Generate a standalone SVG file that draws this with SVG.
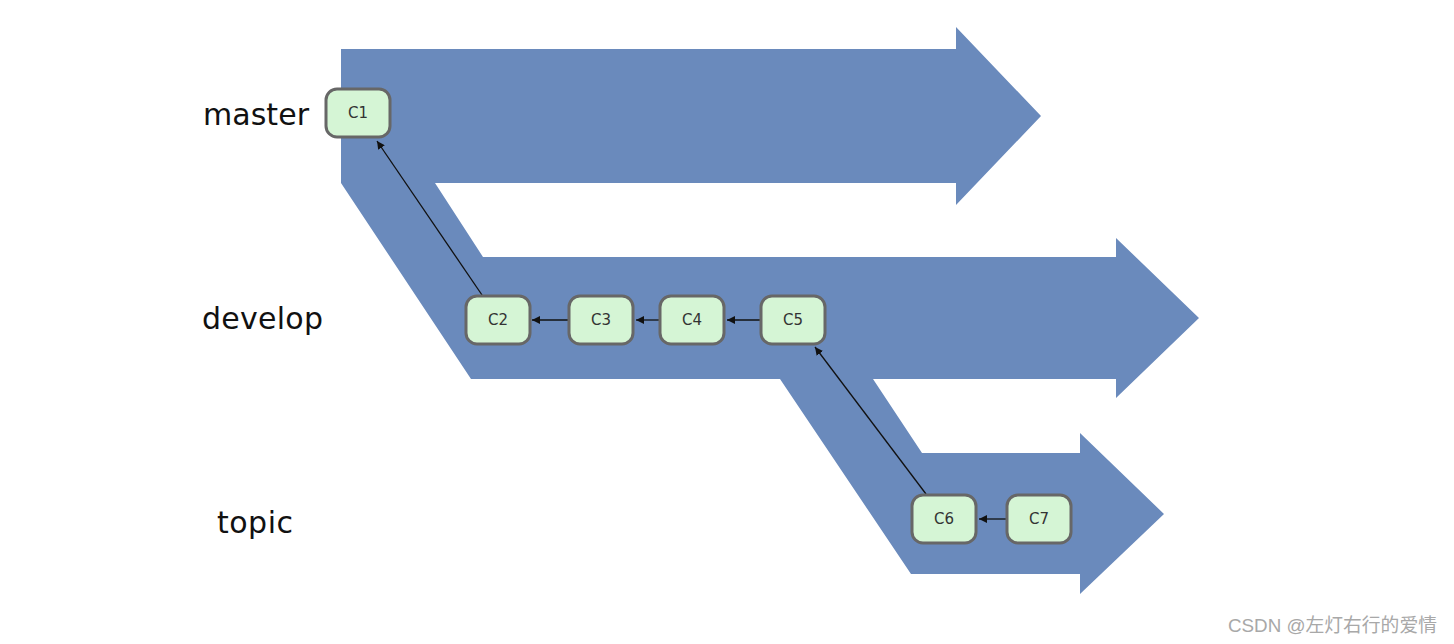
<svg xmlns="http://www.w3.org/2000/svg" width="1454" height="644" viewBox="0 0 1454 644">
<style>
.band{fill:#6a8abc}
.node rect{fill:#d5f5d5;stroke:#676767;stroke-width:3}
.node text{font-family:"DejaVu Sans",sans-serif;font-size:15px;fill:#333;text-anchor:middle}
.lbl{font-family:"DejaVu Sans",sans-serif;font-size:30px;fill:#111}
.conn line{stroke:#111;stroke-width:1.3;marker-end:url(#ah)}
.wm{font-family:"Liberation Sans","Noto Sans CJK SC",sans-serif;font-size:18.8px;fill:#a8a8a8}
</style>
<defs>
<marker id="ah" viewBox="0 0 10 10" refX="10" refY="5" markerWidth="8" markerHeight="8" markerUnits="userSpaceOnUse" orient="auto">
<path d="M0,0 L10,5 L0,10 z" fill="#111"/>
</marker>
</defs>
<g id="bands">
<polygon class="band" points="341,49 956,49 956,27 1041,116 956,205 956,183 435,183 483,257 1116,257 1116,238 1199,318 1116,398 1116,379 873,379 922,453 1080,453 1080,433 1164,514 1080,594 1080,574 911,574 780,379 471,379 341,183"/>
</g>
<g id="labels">
<text class="lbl" x="203" y="125" textLength="106">master</text>
<text class="lbl" x="202" y="329" textLength="121">develop</text>
<text class="lbl" x="217" y="533" textLength="76">topic</text>
</g>
<g id="connectors" class="conn">
<line x1="482" y1="295" x2="377" y2="141"/>
<line x1="569" y1="320" x2="532" y2="320"/>
<line x1="660" y1="320" x2="636" y2="320"/>
<line x1="761" y1="320" x2="727" y2="320"/>
<line x1="926" y1="494" x2="815" y2="347"/>
<line x1="1007" y1="519" x2="979" y2="519"/>
</g>
<g id="C1" class="node"><rect x="326" y="89" width="64" height="48" rx="11"/><text x="358" y="118">C1</text></g>
<g id="C2" class="node"><rect x="466" y="296" width="64" height="48" rx="11"/><text x="498" y="325">C2</text></g>
<g id="C3" class="node"><rect x="569" y="296" width="64" height="48" rx="11"/><text x="601" y="325">C3</text></g>
<g id="C4" class="node"><rect x="660" y="296" width="64" height="48" rx="11"/><text x="692" y="325">C4</text></g>
<g id="C5" class="node"><rect x="761" y="296" width="64" height="48" rx="11"/><text x="793" y="325">C5</text></g>
<g id="C6" class="node"><rect x="912" y="495" width="64" height="48" rx="11"/><text x="944" y="524">C6</text></g>
<g id="C7" class="node"><rect x="1007" y="495" width="64" height="48" rx="11"/><text x="1039" y="524">C7</text></g>
<text class="wm" x="1228" y="632">CSDN @左灯右行的爱情</text>
</svg>
